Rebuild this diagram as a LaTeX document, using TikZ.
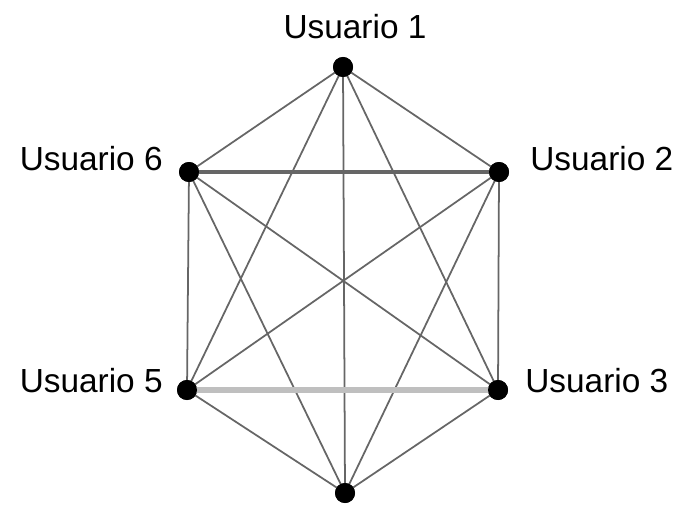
\documentclass[tikz,border=0pt]{standalone}
\usepackage{fontspec}
\setmainfont{Liberation Sans}
\begin{document}
\begin{tikzpicture}[x=0.02cm,y=-0.02cm,line cap=round,line join=round,
    every node/.style={inner sep=0pt},
    user/.style={circle,fill=black,minimum size=0.4cm},
    tag/.style={font=\fontsize{19}{22}\selectfont},
    link/.style={draw=black!60,line width=1pt}]
  \useasboundingbox (0,0) rectangle (685,506);
  \node[user] (u1) at (343,67) {};
  \node[user] (u2) at (499,172) {};
  \node[user] (u3) at (498,390) {};
  \node[user] (u4) at (345,493) {};
  \node[user] (u5) at (187,390) {};
  \node[user] (u6) at (189,172) {};
  \node[tag] (t1) at (355,27) {Usuario 1};
  \node[tag,anchor=west] (t2) at (530,159) {Usuario 2};
  \node[tag,anchor=west] (t3) at (525,381) {Usuario 3};
  \node[tag,anchor=east] (t5) at (163,381) {Usuario 5};
  \node[tag,anchor=east] (t6) at (163,159) {Usuario 6};
  \foreach \a/\b in {u1/u2,u1/u3,u1/u4,u1/u5,u1/u6,u2/u3,u2/u4,u2/u5,u3/u4,u3/u6,u4/u5,u4/u6,u5/u6}{
    \draw[link] (\a.center) -- (\b.center);
  }
  \draw[link,line width=1.8pt] (u6.center) -- (u2.center);
  \draw[draw=black!25,line width=3pt] (u5.center) -- (u3.center);
  % dots over the links
  \foreach \n in {u1,u2,u3,u4,u5,u6}{
    \fill (\n) circle (0.2cm);
  }
\end{tikzpicture}
\end{document}
